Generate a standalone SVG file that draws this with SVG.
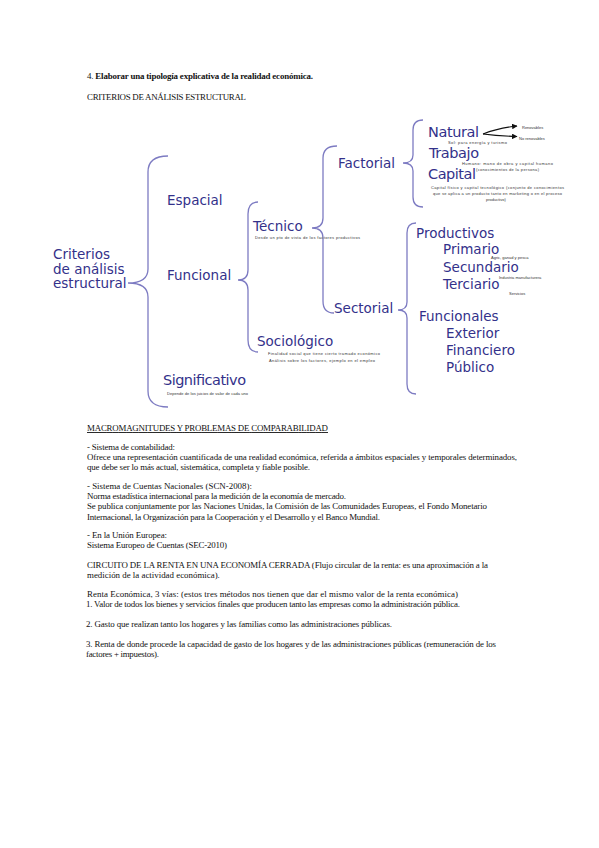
<svg xmlns="http://www.w3.org/2000/svg" width="599" height="848" viewBox="0 0 599 848">
<style>
.doc{font-family:"Liberation Serif","Times New Roman",serif;font-size:8.9px;fill:#111}
.lbl{font-family:"DejaVu Sans",Verdana,sans-serif;font-size:13.5px;fill:#33318a}
.big{font-size:14.5px}
.note{font-family:"Liberation Sans",Arial,sans-serif;font-size:4px;fill:#333}
.brace{fill:none;stroke:#7d7bc2;stroke-width:1.3}
.arr{fill:none;stroke:#111;stroke-width:1.1}
</style>
<defs>
<marker id="ah" viewBox="0 0 10 10" refX="9" refY="5" markerWidth="5" markerHeight="5" orient="auto">
<path d="M0,0 L10,5 L0,10 z" fill="#111"/>
</marker>
</defs>
<rect width="599" height="848" fill="#fff"/>

<g id="header">
<text class="doc" x="87" y="78.5" textLength="226" lengthAdjust="spacing">4. <tspan font-weight="bold">Elaborar una tipología explicativa de la realidad económica.</tspan></text>
<text class="doc" x="87" y="99.5" textLength="159" lengthAdjust="spacing">CRITERIOS DE ANÁLISIS ESTRUCTURAL</text>
</g>

<g id="connectors">
<path class="brace" d="M168,156 Q148,156 148,172 L148,269 Q148,283 128,283 Q148,283 148,297 L148,391 Q148,407 168,407"/>
<path class="brace" d="M258,202 Q248,202 248,214 L248,270 Q248,280 238,280 Q248,280 248,290 L248,340 Q248,352 258,352"/>
<path class="brace" d="M337,146 Q323,146 323,158 L323,218 Q323,228 312,228 Q323,228 323,238 L323,301 Q323,313 334,313"/>
<path class="brace" d="M423,120 Q413,120 413,130 L413,155 Q413,163 403,163 Q413,163 413,171 L413,197 Q413,207 423,207"/>
<path class="brace" d="M416,223 Q407,223 407,233 L407,302 Q407,310 398,310 Q407,310 407,318 L407,384 Q407,394 416,394"/>
<path class="arr" d="M483,134 Q498,128 517,126" marker-end="url(#ah)"/>
<path class="arr" d="M483,134 Q498,136 517,136.5" marker-end="url(#ah)"/>
</g>

<g id="criterios">
<text class="lbl" x="53" y="259">Criterios</text>
<text class="lbl" x="53" y="273.5">de análisis</text>
<text class="lbl" x="53" y="288">estructural</text>
</g>
<g id="espacial"><text class="lbl" x="167" y="205">Espacial</text></g>
<g id="funcional"><text class="lbl" x="167" y="280">Funcional</text></g>
<g id="significativo">
<text class="lbl big" x="163" y="385" textLength="83">Significativo</text>
<text class="note" x="167" y="395" textLength="81">Depende de los juicios de valor de cada uno</text>
</g>
<g id="tecnico">
<text class="lbl" x="253" y="231">Técnico</text>
<text class="note" x="255" y="239" textLength="105">Desde un pto de vista de los factores productivos</text>
</g>
<g id="sociologico">
<text class="lbl" x="257" y="346">Sociológico</text>
<text class="note" x="268" y="355" textLength="112">Finalidad social que tiene cierto tramado económico</text>
<text class="note" x="269" y="362" textLength="106">Análisis sobre los factores, ejemplo en el empleo</text>
</g>
<g id="factorial"><text class="lbl" x="338" y="168">Factorial</text></g>
<g id="sectorial"><text class="lbl" x="334" y="313">Sectorial</text></g>
<g id="natural">
<text class="lbl big" x="428" y="137" textLength="51">Natural</text>
<text class="note" x="448" y="144" textLength="59">Sol: para energía y turismo</text>
</g>
<g id="renovables"><text class="note" x="522" y="128.5">Renovables</text></g>
<g id="norenovables"><text class="note" x="519" y="139.5">No renovables</text></g>
<g id="trabajo">
<text class="lbl big" x="429" y="158" textLength="50">Trabajo</text>
<text class="note" x="462" y="165" textLength="91">Humano: mano de obra y capital humano</text>
<text class="note" x="476" y="171" textLength="63">(conocimientos de la persona)</text>
</g>
<g id="capital">
<text class="lbl big" x="428" y="179" textLength="48">Capital</text>
<text class="note" x="431" y="189" textLength="133">Capital físico y capital tecnológico (conjunto de conocimientos</text>
<text class="note" x="433" y="195" textLength="129">que se aplica a un producto tanto en marketing o en el proceso</text>
<text class="note" x="486" y="201">productivo)</text>
</g>
<g id="productivos"><text class="lbl" x="416" y="238">Productivos</text></g>
<g id="primario">
<text class="lbl" x="443" y="254">Primario</text>
<text class="note" x="491" y="259">Agric, ganad y pesca</text>
</g>
<g id="secundario">
<text class="lbl" x="443" y="272">Secundario</text>
<text class="note" x="499" y="278.5">Industria manufacturera</text>
</g>
<g id="terciario">
<text class="lbl" x="443" y="289">Terciario</text>
<text class="note" x="509" y="295">Servicios</text>
</g>
<g id="funcionales"><text class="lbl" x="419" y="321">Funcionales</text></g>
<g id="exterior"><text class="lbl" x="446" y="338">Exterior</text></g>
<g id="financiero"><text class="lbl" x="446" y="355">Financiero</text></g>
<g id="publico"><text class="lbl" x="446" y="372">Público</text></g>

<g id="body">
<text class="doc" x="87" y="431" textLength="241" lengthAdjust="spacing" text-decoration="underline">MACROMAGNITUDES Y PROBLEMAS DE COMPARABILIDAD</text>
<text class="doc" x="87" y="450" textLength="88" lengthAdjust="spacing">- Sistema de contabilidad:</text>
<text class="doc" x="87" y="460" textLength="430" lengthAdjust="spacing">Ofrece una representación cuantificada de una realidad económica, referida a ámbitos espaciales y temporales determinados,</text>
<text class="doc" x="87" y="470" textLength="223" lengthAdjust="spacing">que debe ser lo más actual, sistemática, completa y fiable posible.</text>
<text class="doc" x="87" y="489">- Sistema de Cuentas Nacionales (SCN-2008):</text>
<text class="doc" x="87" y="499" textLength="259" lengthAdjust="spacing">Norma estadística internacional para la medición de la economía de mercado.</text>
<text class="doc" x="87" y="509" textLength="400" lengthAdjust="spacing">Se publica conjuntamente por las Naciones Unidas, la Comisión de las Comunidades Europeas, el Fondo Monetario</text>
<text class="doc" x="87" y="519.5" textLength="293" lengthAdjust="spacing">Internacional, la Organización para la Cooperación y el Desarrollo y el Banco Mundial.</text>
<text class="doc" x="87" y="538" textLength="80" lengthAdjust="spacing">- En la Unión Europea:</text>
<text class="doc" x="87" y="548" textLength="140" lengthAdjust="spacing">Sistema Europeo de Cuentas (SEC-2010)</text>
<text class="doc" x="87" y="567.5" textLength="401" lengthAdjust="spacing">CIRCUITO DE LA RENTA EN UNA ECONOMÍA CERRADA (Flujo circular de la renta: es una aproximación a la</text>
<text class="doc" x="87" y="577.5">medición de la actividad económica).</text>
<text class="doc" x="87" y="597" textLength="371" lengthAdjust="spacing">Renta Económica, 3 vías: (estos tres métodos nos tienen que dar el mismo valor de la renta económica)</text>
<text class="doc" x="86" y="607" textLength="374" lengthAdjust="spacing">1. Valor de todos los bienes y servicios finales que producen tanto las empresas como la administración pública.</text>
<text class="doc" x="86" y="626.5" textLength="306" lengthAdjust="spacing">2. Gasto que realizan tanto los hogares y las familias como las administraciones públicas.</text>
<text class="doc" x="86" y="646.5" textLength="410" lengthAdjust="spacing">3. Renta de donde procede la capacidad de gasto de los hogares y de las administraciones públicas (remuneración de los</text>
<text class="doc" x="86" y="657" textLength="73" lengthAdjust="spacing">factores + impuestos).</text>
</g>
</svg>
